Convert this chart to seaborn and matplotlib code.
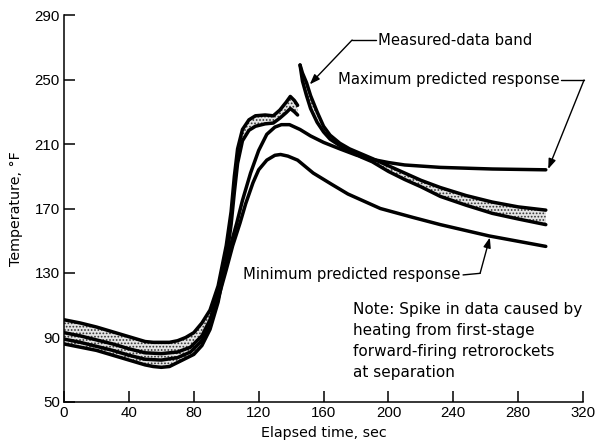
import matplotlib
matplotlib.use("Agg")
import matplotlib.pyplot as plt
import seaborn as sns
import pandas as pd

# Elapsed time (s) and temperature (deg F)
# Measured-data band, ascent up to separation
band1_time = [0, 10, 20, 30, 40, 50, 55, 60, 65, 70, 75, 80, 85, 90, 95, 100, 103,
              105, 107, 110, 114, 118, 124, 129, 133, 137, 139.5, 142, 144]
band1_upper = [101, 99, 96.5, 93.5, 90.5, 87.5, 87, 87, 87, 88, 90, 93, 99, 107, 122,
               147, 168, 190, 207, 219, 225, 227.5, 228, 227.5, 231, 236, 239.5, 237, 234]
band1_lower = [86, 84, 82, 79, 76, 73, 72, 71.5, 72, 74.5, 77, 79.5, 85, 95, 112,
               138, 160, 180, 198, 212, 218.5, 221, 222.5, 223, 226, 229.5, 232, 230, 228]

# Measured-data band after the separation spike
band2_time = [145.5, 147, 149.5, 152, 156, 160, 164, 170, 176, 183, 190, 200, 210,
              220, 232, 248, 264, 280, 297]
band2_upper = [259, 254, 248, 240, 230, 221, 215.5, 210.5, 207, 204, 201, 196.5, 192,
               187.5, 183, 178, 174, 171, 169]
band2_lower = [259, 249, 240, 232, 223.5, 217.5, 213, 209, 206, 202, 199, 193, 188,
               183.5, 177.5, 172, 167, 163.5, 160]

# Predicted responses
max_time = [0, 10, 20, 30, 40, 50, 60, 70, 78, 85, 90, 95, 100, 104, 106.5, 110, 115,
            120, 125, 130, 134, 139, 145.5, 152, 160, 170, 180.5, 190, 200, 210, 232,
            264, 297]
max_temp = [93, 91, 88.5, 86, 83, 80.5, 80, 81, 84, 91, 101, 118, 136, 152, 161, 175,
            192, 206, 216, 220.5, 222, 222, 219, 215, 211, 207, 203, 200.5, 198.5, 197,
            195.5, 194.5, 194]

min_time = [0, 10, 20, 30, 40, 50, 60, 70, 78, 85, 90, 95, 100, 104, 108.5, 112,
            116.5, 120, 125, 130, 133.5, 138, 144, 153.6, 165, 175, 185, 195, 215,
            232, 262, 297]
min_temp = [89, 87, 84.5, 82, 79, 76.5, 76, 77.5, 81, 88, 98, 114, 132, 147, 161, 173,
            186, 194, 200, 203, 203.5, 202.5, 200, 192, 185, 179, 174.5, 170, 164.5,
            160, 153, 146.5]

x_ticks = list(range(0, 321, 40))
y_ticks = list(range(50, 291, 40))

sns.set_style("ticks")
plt.rcParams["hatch.linewidth"] = 0.8

fig = plt.figure(figsize=(5.95, 4.47), dpi=100)
ax = fig.add_axes([0.1076, 0.1007, 0.8724, 0.8657])

ink = "black"
lw = 2.5

# Stippled measured-data band
for t, lo, hi in [(band1_time, band1_lower, band1_upper),
                  (band2_time, band2_lower, band2_upper)]:
    ax.fill_between(t, lo, hi, facecolor="#e4e4e4", edgecolor="#333333",
                    hatch=".....", linewidth=0, zorder=1)
    for edge in (lo, hi):
        sns.lineplot(data=pd.DataFrame({"t": t, "T": edge}), x="t", y="T", ax=ax,
                     color=ink, lw=lw, zorder=3, solid_joinstyle="round",
                     solid_capstyle="round")

for t, v in [(max_time, max_temp), (min_time, min_temp)]:
    sns.lineplot(data=pd.DataFrame({"t": t, "T": v}), x="t", y="T", ax=ax,
                 color=ink, lw=lw, zorder=3, solid_joinstyle="round",
                 solid_capstyle="round")

ax.set_xlim(0, 320)
ax.set_ylim(50, 290)
ax.set_xticks(x_ticks)
ax.set_yticks(y_ticks)
sns.despine(ax=ax)
for s in ("left", "bottom"):
    ax.spines[s].set_linewidth(1.1)
    ax.spines[s].set_color(ink)
ax.tick_params(direction="in", length=8, width=1.1, colors=ink, pad=3)

for lab in ax.get_xticklabels() + ax.get_yticklabels():
    lab.set_fontfamily(["Liberation Sans", "DejaVu Sans"])
    lab.set_fontsize(10.8)

label_font = dict(family=["DejaVu Sans"], size=10.3, color=ink)
ax.set_xlabel("Elapsed time, sec", labelpad=4, **label_font)
ax.set_ylabel("Temperature, °F", labelpad=8, **label_font)

note_font = dict(family=["DejaVu Sans"], size=10.7, color=ink)
arrow = dict(arrowstyle="-|>,head_length=0.6,head_width=0.22", color=ink, lw=1.0,
             shrinkA=0, shrinkB=0)

# Measured-data band callout
ax.text(193.5, 274.5, "Measured-data band", va="center", ha="left", **note_font)
ax.plot([192.5, 177.6], [274.5, 274.5], color=ink, lw=1.0, clip_on=False)
ax.annotate("", xy=(151.5, 247), xytext=(177.6, 274.5), arrowprops=arrow)

# Maximum predicted response callout
ax.text(169, 249.7, "Maximum predicted response", va="center", ha="left", **note_font)
ax.plot([306.5, 320.6], [249.7, 249.7], color=ink, lw=1.0, clip_on=False)
ax.annotate("", xy=(298.5, 194.5), xytext=(320.6, 249.7), arrowprops=arrow,
            annotation_clip=False)

# Minimum predicted response callout
ax.text(110.4, 128.8, "Minimum predicted response", va="center", ha="left", **note_font)
ax.plot([246, 256.5], [128.8, 129.8], color=ink, lw=1.0)
ax.annotate("", xy=(262.5, 152), xytext=(256.5, 129.8), arrowprops=arrow)

ax.text(178.2, 112, "Note: Spike in data caused by\nheating from first-stage\n"
        "forward-firing retrorockets\nat separation", va="top", ha="left",
        linespacing=1.5, size=11, family=["DejaVu Sans"], color=ink)

fig.savefig("out.png", dpi=100)
